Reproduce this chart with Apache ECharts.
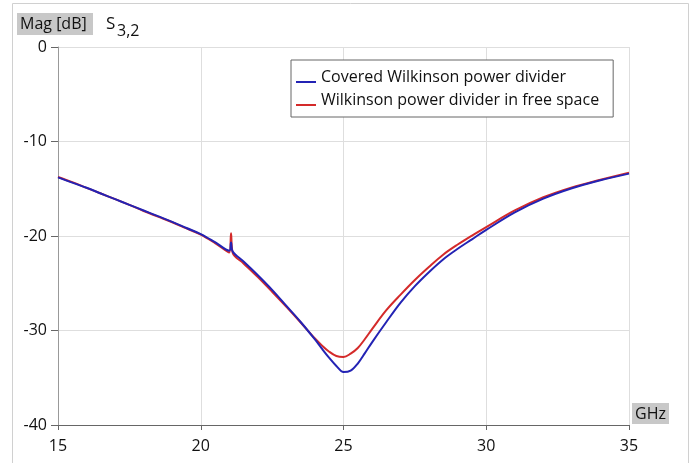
<!DOCTYPE html>
<html>
<head>
<meta charset="utf-8">
<script src="https://cdn.jsdelivr.net/npm/echarts@6/dist/echarts.min.js"></script>
<style>html,body{margin:0;padding:0;background:#fff;}#c{width:696px;height:463px;}</style>
</head>
<body>
<div id="c"></div>
<script>
const freq = [15,15.5,16,16.5,17,17.5,18,18.5,19,19.5,20,20.5,21.0,21.06,21.12,21.5,22,22.5,23,23.5,24,24.25,24.5,24.75,25,25.25,25.5,25.75,26,26.5,27,27.5,28,28.5,29,29.5,30,31,32,33,34,35];
const covered = [-13.8,-14.35,-14.9,-15.5,-16.1,-16.7,-17.3,-17.9,-18.5,-19.15,-19.8,-20.65,-21.55,-20.7,-21.65,-22.7,-24.15,-25.7,-27.4,-29.1,-30.95,-31.95,-32.9,-33.75,-34.4,-34.25,-33.5,-32.4,-31.25,-29.1,-27.05,-25.3,-23.8,-22.45,-21.35,-20.35,-19.35,-17.5,-16.05,-14.95,-14.1,-13.4];
const freeSpace = [-13.75,-14.3,-14.9,-15.5,-16.1,-16.7,-17.35,-17.95,-18.55,-19.2,-19.85,-20.75,-21.75,-19.7,-21.8,-22.9,-24.35,-25.9,-27.5,-29.15,-30.85,-31.6,-32.25,-32.7,-32.8,-32.45,-31.85,-30.9,-29.85,-27.85,-26.2,-24.65,-23.25,-21.95,-20.9,-19.95,-19.05,-17.3,-15.9,-14.85,-14.05,-13.3];
const seriesNames = ['Covered Wilkinson power divider', 'Wilkinson power divider in free space'];
const xTicks = [15, 20, 25, 30, 35];
const yTicks = [-40, -30, -20, -10, 0];

const FONT = '"Open Sans", "Noto Sans", sans-serif';
const chart = echarts.init(document.getElementById('c'), null, {renderer: 'canvas'});
const pairs = (ys) => freq.map((f, i) => [f, ys[i]]);
const legendIcon = 'path://M0,0L20,0L20,0.01L0,0.01Z M0,10L20,10L20,12L0,12Z';

chart.setOption({
  animation: false,
  backgroundColor: '#fff',
  textStyle: {fontFamily: FONT},
  grid: {left: 58, right: 67, top: 47, bottom: 38},
  graphic: [
    {type: 'rect', shape: {x: 12.5, y: 3.5, width: 676, height: 480}, style: {fill: 'none', stroke: '#d0d0d0', lineWidth: 1}, z: -10},
    {type: 'rect', shape: {x: 17, y: 13, width: 76, height: 22}, style: {fill: '#c8c8c8'}},
    {type: 'text', x: 20, y: 24, style: {text: 'Mag [dB]', font: '16px ' + FONT, fill: '#111', textVerticalAlign: 'middle'}},
    {type: 'text', x: 106, y: 24, style: {text: 'S', font: '17px ' + FONT, fill: '#111', textVerticalAlign: 'middle'}},
    {type: 'text', x: 117, y: 31, style: {text: '3,2', font: '16px ' + FONT, fill: '#111', textVerticalAlign: 'middle'}},
    {type: 'rect', shape: {x: 632, y: 403, width: 37, height: 21}, style: {fill: '#c8c8c8'}},
    {type: 'text', x: 635, y: 414, style: {text: 'GHz', font: '16px ' + FONT, fill: '#111', textVerticalAlign: 'middle'}}
  ],
  legend: {
    orient: 'vertical',
    left: 291, top: 60,
    padding: [8, 14, 8, 5],
    backgroundColor: '#fff',
    borderColor: '#666', borderWidth: 1,
    itemWidth: 20, itemHeight: 12, itemGap: 5,
    icon: legendIcon,
    data: seriesNames,
    textStyle: {fontSize: 16, color: '#111', fontFamily: FONT, lineHeight: 18}
  },
  xAxis: {
    type: 'value', min: 15, max: 35, interval: 5,
    axisLine: {onZero: false, lineStyle: {color: '#666', width: 1}},
    axisTick: {show: true, length: 5, lineStyle: {color: '#666'}},
    axisLabel: {fontSize: 16, color: '#111', margin: 13, fontFamily: FONT,
      formatter: (v) => xTicks.includes(v) ? String(v) : ''},
    splitLine: {show: true, lineStyle: {color: '#dedede', width: 1}}
  },
  yAxis: {
    type: 'value', min: -40, max: 0, interval: 10,
    axisLine: {show: true, onZero: false, lineStyle: {color: '#999', width: 1}},
    axisTick: {show: true, length: 7, lineStyle: {color: '#666'}},
    axisLabel: {fontSize: 16, color: '#111', margin: 11, fontFamily: FONT,
      formatter: (v) => yTicks.includes(v) ? String(v) : ''},
    splitLine: {show: true, lineStyle: {color: '#dedede', width: 1}}
  },
  series: [
    {name: seriesNames[1], type: 'line', data: pairs(freeSpace), showSymbol: false, smooth: 0.35,
      lineStyle: {color: '#d42a2a', width: 2}, itemStyle: {color: '#d42a2a'}, z: 2},
    {name: seriesNames[0], type: 'line', data: pairs(covered), showSymbol: false, smooth: 0.35,
      lineStyle: {color: '#2323b4', width: 2}, itemStyle: {color: '#2323b4'}, z: 3}
  ]
});
</script>
</body>
</html>
